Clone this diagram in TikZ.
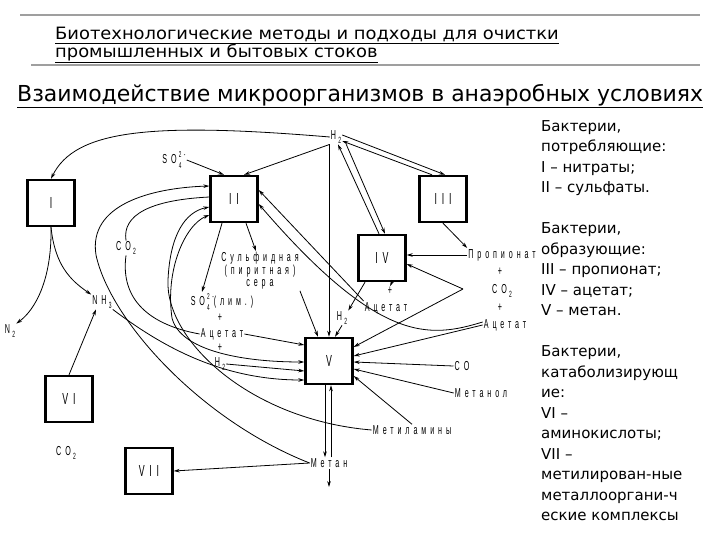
\documentclass[tikz,border=0pt]{standalone}
\usepackage{fontspec}
\setmainfont{DejaVu Sans}
\newfontfamily\headfont[FakeStretch=1.17]{DejaVu Sans Condensed}
\newfontfamily\titlefont[FakeStretch=1.11]{DejaVu Sans Condensed}
\newfontfamily\labfont[FakeStretch=0.55,LetterSpace=30]{Liberation Sans}
\usetikzlibrary{arrows.meta}
\newcommand{\subn}[1]{\,\raisebox{-0.5ex}{\fontsize{9}{9}\selectfont#1}}
\newcommand{\ionn}[2]{\,\rlap{\raisebox{-0.7ex}{\fontsize{8.5}{8.5}\selectfont#1}}\raisebox{1.0ex}{\fontsize{8.5}{8.5}\selectfont#2}}

\begin{document}
\begin{tikzpicture}[
        x=1pt, y=-1pt,
        >={Stealth[length=6pt,width=3.6pt]},
        box/.style={draw, line width=2.4pt, minimum width=47pt, minimum height=46pt, font=\labfont\fontsize{16}{16}\selectfont},
        lbl/.style={font=\labfont\fontsize{13}{12}\selectfont, inner sep=1pt, align=center},
        flow/.style={->, line width=0.8pt},
        ln/.style={line width=0.8pt},
        rule/.style={draw=gray!75, line width=1.5pt}
    ]
        \useasboundingbox (0,0) rectangle (720,540);
        \clip (0,0) rectangle (720,540);

        \draw[rule] (20,15) -- (700,15);
        \draw[rule] (31,65) -- (700,65);
        \node[anchor=west, align=left, inner sep=0pt, font=\headfont\fontsize{17}{17}\selectfont] (head) at (55,45)
            {\underline{Биотехнологические методы и подходы для очистки}\\\underline{промышленных и бытовых стоков}};
        \node[anchor=west, inner sep=0pt, font=\titlefont\fontsize{22}{24}\selectfont] (title) at (17,96)
            {\underline{Взаимодействие микроорганизмов в анаэробных условиях}};
        \node[anchor=north west, align=left, inner sep=0pt, font=\fontsize{15}{20.5}\selectfont] (legend) at (541,120)
            {Бактерии,\\потребляющие:\\I – нитраты;\\II – сульфаты.\\~\\Бактерии,\\образующие:\\III – пропионат;\\IV – ацетат;\\V – метан.\\~\\Бактерии,\\катаболизирующ\\ие:\\VI –\\аминокислоты;\\VII –\\метилирован-ные\\металлооргани-ч\\еские комплексы};

        \node[box] (bI)   at (51,203)  {I};
        \node[box] (bII)  at (234,199) {II};
        \node[box] (bIII) at (443,199) {III};
        \node[box] (bIV)  at (382,258) {IV};
        \node[box] (bV)   at (329,361) {V};
        \node[box] (bVI)  at (69,399)  {VI};
        \node[box] (bVII) at (149,471) {VII};

        \node[lbl] (hTop)  at (336,137) {H\subn{2}};
        \node[lbl] (soTop) at (174,160) {SO\ionn{4}{2-}};
        \node[lbl] (coL)   at (126,248) {CO\subn{2}};
        \node[lbl] (nhT)   at (102,302) {NH\subn{3}};
        \node[lbl] (nT)    at (10,331)  {N\subn{2}};
        \node[lbl] (coLow) at (66,453)  {CO\subn{2}};
        \node[lbl] (sulf)  at (260,271) {Сульфидная\\(пиритная)\\сера};
        \node[lbl] (soLim) at (222,302) {SO\ionn{4}{2-}(лим.)};
        \node[lbl] (plA)   at (220,318) {+};
        \node[lbl] (acL)   at (222,334) {Ацетат};
        \node[lbl] (plB)   at (220,348) {+};
        \node[lbl] (hL)    at (220,364) {H\subn{2}};
        \node[lbl] (hM)    at (342,318) {H\subn{2}};
        \node[lbl] (plIV)  at (390,291) {+};
        \node[lbl] (acIV)  at (386,308) {Ацетат};
        \node[lbl] (prop)  at (502,255) {Пропионат};
        \node[lbl] (plC)   at (500,272) {+};
        \node[lbl] (coR)   at (502,291) {CO\subn{2}};
        \node[lbl] (plD)   at (500,308) {+};
        \node[lbl] (acR)   at (505,325) {Ацетат};
        \node[lbl] (coV)   at (462,366) {CO};
        \node[lbl] (meol)  at (481,393) {Метанол};
        \node[lbl] (mam)   at (412,430) {Метиламины};
        \node[lbl] (meth)  at (329,463) {Метан};
        \coordinate (coFork) at (463,289);
        \coordinate (methOut) at (329,487);

        \draw[flow] (hTop.west) .. controls (150,122) and (75,130) .. (bI.north);
        \draw[flow] (hTop.south west) -- ([xshift=10pt]bII.north);
        \draw[flow] (soTop.east) -- ([xshift=-10pt]bII.north);
        \draw[flow] ([yshift=2pt]hTop.east) -- ([xshift=2pt]bIII.north);
        \draw[flow] ([xshift=-11pt]bIII.north) -- ([yshift=-4pt]hTop.east);
        \draw[flow] ([xshift=4pt]hTop.south east) -- ([xshift=3pt]bIV.north);
        \draw[flow] ([xshift=-3pt]bIV.north) -- ([xshift=2pt]hTop.south);
        \draw[flow] (bV.north |- hTop.south) -- (bV.north);
        \draw[flow] (hM.south) -- ([xshift=6pt]bV.north);
        \draw[flow] (sulf.south east) -- ([xshift=-11pt]bV.north);
        \draw[flow] ([xshift=-12pt]bII.south) -- ([xshift=-20pt]soLim.north);
        \draw[flow] ([xshift=12pt]bII.south) -- ([xshift=-4pt]sulf.north);
        \draw[flow] (bIII.south) -- (prop.north west);
        \draw[flow] (prop.west) -- (prop.west -| bIV.east);
        \draw[flow] (coFork) -- ([yshift=-6pt]bIV.east);
        \draw[flow] (coFork) -- ([yshift=14pt]bV.east);
        \draw[flow] (acR.west) -- ([yshift=5pt]bV.east);
        \draw[flow] ([yshift=3pt]acR.west) .. controls (430,338) and (380,345) .. ([yshift=-5pt]bII.east);
        \draw[flow] (acIV.north west) -- ([yshift=9pt]bII.east);
        \draw[flow] ([xshift=-17pt]bIV.south) -- (hM.north east);
        \draw[flow] ([xshift=10pt]bIV.south) -- (plIV.north);
        \draw[flow] (coV.west) -- ([yshift=-1pt]bV.east);
        \draw[flow] (meol.west) -- ([yshift=-8pt]bV.east);
        \draw[flow] (mam.north) -- ([yshift=-15pt]bV.east);
        \draw[flow] ([xshift=-4pt]bV.south) -- ([xshift=-4pt]meth.north);
        \draw[flow] ([xshift=2pt]meth.north) -- ([xshift=2pt]bV.south);
        \draw[flow] (meth.south) -- (methOut);
        \draw[flow] (meth.west) -- (bVII.east);

        \draw[flow] (meth.west) .. controls (200,420) and (110,320) .. (96,255)
            .. controls (88,205) and (150,188) .. ([yshift=13pt]bII.west);
        \draw[ln] ([yshift=2pt]bII.west) .. controls (150,200) and (122,215) .. (coL.north);
        \draw[ln] (coL.south) .. controls (120,300) and (150,325) .. (acL.west);
        \draw[flow] (mam.west) .. controls (250,420) and (165,340) .. (168,280)
            .. controls (170,235) and (185,212) .. ([yshift=-8pt]bII.west);
        \draw[<->, line width=0.8pt] ([yshift=-16pt]bII.west) .. controls (185,225) and (165,270) .. (172,318)
            .. controls (180,350) and (240,362) .. ([yshift=-1pt]bV.west);
        \draw[flow] (nhT.south east) .. controls (160,345) and (220,380) .. ([yshift=-19pt]bV.west);
        \draw[flow] (acL.east) -- ([yshift=16pt]bV.west);
        \draw[flow] (hL.east) -- ([yshift=-10pt]bV.west);

        \draw[flow] (bI.south) .. controls (52,280) and (35,310) .. (nT.north east);
        \draw[flow] (bI.south) .. controls (55,265) and (70,280) .. (nhT.north west);
        \draw[flow] (bVI.north) -- ([xshift=-6pt]nhT.south);
    \end{tikzpicture}
\end{document}
